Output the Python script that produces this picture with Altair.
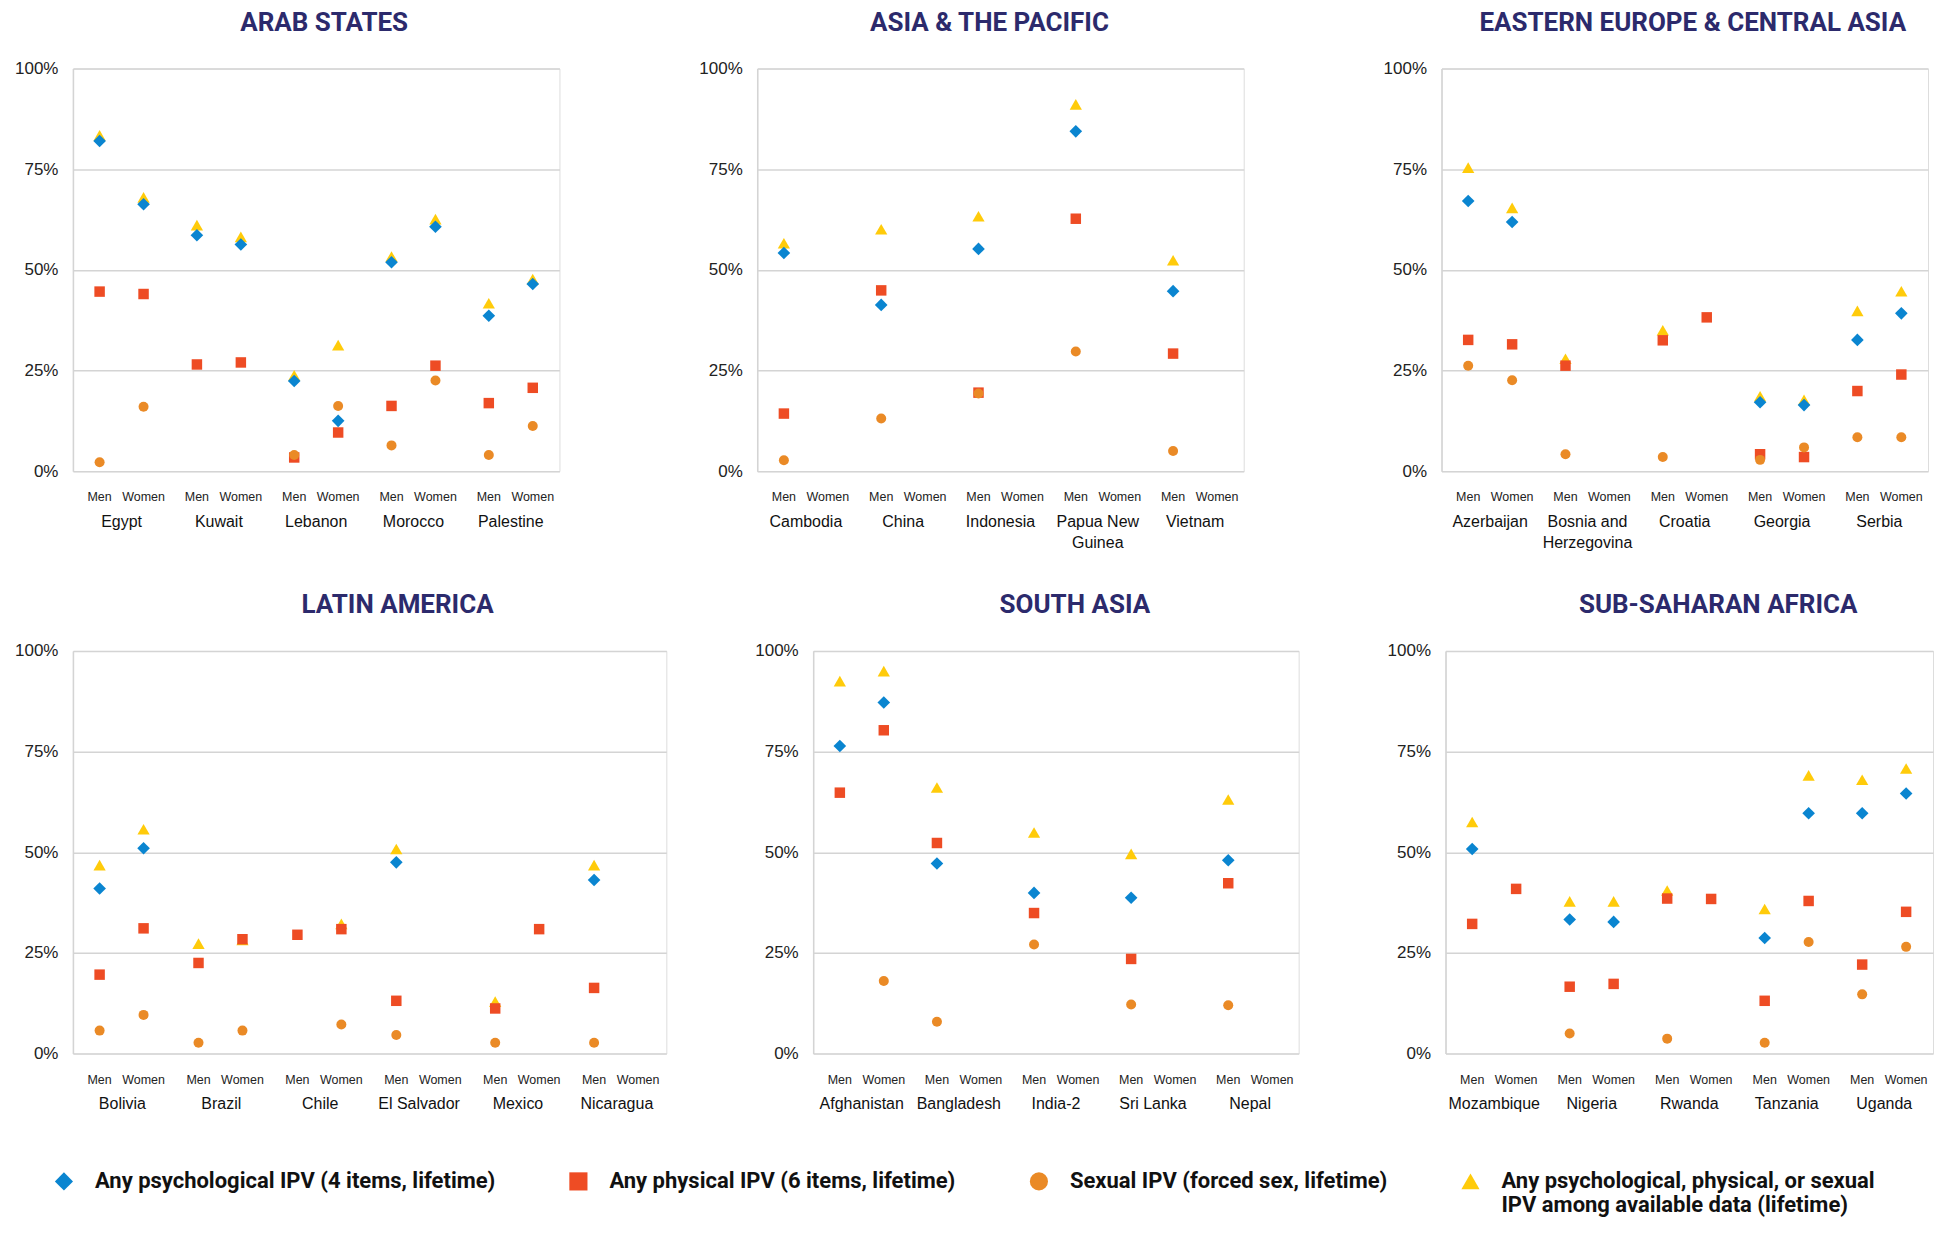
import altair as alt
import pandas as pd

BODY = "Liberation Sans, Arial, sans-serif"
HEAD = "Roboto, sans-serif"
NAVY = "#2C2A6C"
GRID = "#D4D4D4"

SERIES = [
    "Any psychological IPV (4 items, lifetime)",
    "Any physical IPV (6 items, lifetime)",
    "Sexual IPV (forced sex, lifetime)",
    "Any psychological, physical, or sexual|IPV among available data (lifetime)",
]
COLORS = ["#0A85D0", "#EE4C24", "#EA8A26", "#FFCB0A"]
SHAPES = ["diamond", "square", "circle", "triangle-up"]
SIZES = [160, 110, 100, 150]
GENDERS = ["Men", "Women"]

# ---------------- data (percent) ----------------
arab_countries = ["Egypt", "Kuwait", "Lebanon", "Morocco", "Palestine"]
arab_psych_men = [82.0, 58.6, 22.4, 51.9, 38.6]
arab_psych_women = [66.3, 56.3, 12.5, 60.7, 46.5]
arab_phys_men = [44.6, 26.5, 3.4, 16.2, 16.9]
arab_phys_women = [44.0, 27.0, 9.6, 26.2, 20.7]
arab_sex_men = [2.2, None, 4.0, 6.4, 4.0]
arab_sex_women = [16.0, None, 16.2, 22.5, 11.2]
arab_any_men = [83.4, 61.1, 23.8, 53.3, 41.7]
arab_any_women = [68.0, 58.2, 31.3, 62.6, 47.7]

asia_countries = ["Cambodia", "China", "Indonesia", "Papua New\nGuinea", "Vietnam"]
asia_psych_men = [54.2, 41.3, 55.2, 84.4, 44.7]
asia_psych_women = [None, None, None, None, None]
asia_phys_men = [14.3, 44.9, 19.5, 62.7, 29.2]
asia_phys_women = [None, None, None, None, None]
asia_sex_men = [2.7, 13.1, 19.3, 29.7, 5.0]
asia_sex_women = [None, None, None, None, None]
asia_any_men = [56.6, 60.1, 63.3, 91.1, 52.4]
asia_any_women = [None, None, None, None, None]

eeca_countries = ["Azerbaijan", "Bosnia and\nHerzegovina", "Croatia", "Georgia", "Serbia"]
eeca_psych_men = [67.1, None, None, 17.1, 32.6]
eeca_psych_women = [61.9, None, None, 16.4, 39.2]
eeca_phys_men = [32.6, 26.2, 32.5, 4.2, 19.9]
eeca_phys_women = [31.5, None, 38.2, 3.5, 24.0]
eeca_sex_men = [26.2, 4.2, 3.5, 2.8, 8.4]
eeca_sex_women = [22.6, None, None, 5.9, 8.4]
eeca_any_men = [75.4, 27.9, 35.0, 18.6, 39.8]
eeca_any_women = [65.4, None, None, 17.7, 44.7]

latam_countries = ["Bolivia", "Brazil", "Chile", "El Salvador", "Mexico", "Nicaragua"]
latam_psych_men = [41.0, None, None, 47.5, None, 43.1]
latam_psych_women = [51.0, None, None, None, None, None]
latam_phys_men = [19.6, 22.5, 29.5, 13.1, 11.2, 16.3]
latam_phys_women = [31.1, 28.4, 30.9, None, 30.9, None]
latam_sex_men = [5.7, 2.7, None, 4.6, 2.7, 2.7]
latam_sex_women = [9.6, 5.7, 7.2, None, None, None]
latam_any_men = [46.8, 27.3, None, 50.8, 12.9, 46.8]
latam_any_women = [55.7, 28.2, 32.2, None, None, None]

sasia_countries = ["Afghanistan", "Bangladesh", "India-2", "Sri Lanka", "Nepal"]
sasia_psych_men = [76.4, 47.2, 39.9, 38.7, 48.0]
sasia_psych_women = [87.2, None, None, None, None]
sasia_phys_men = [64.8, 52.3, 34.9, 23.5, 42.3]
sasia_phys_women = [80.3, None, None, None, None]
sasia_sex_men = [None, 7.9, 27.1, 12.2, 12.0]
sasia_sex_women = [18.0, None, None, None, None]
sasia_any_men = [92.5, 66.1, 54.9, 49.6, 63.1]
sasia_any_women = [95.0, None, None, None, None]

ssa_countries = ["Mozambique", "Nigeria", "Rwanda", "Tanzania", "Uganda"]
ssa_psych_men = [50.8, 33.3, None, 28.7, 59.7]
ssa_psych_women = [None, 32.7, None, 59.7, 64.6]
ssa_phys_men = [32.2, 16.6, 38.5, 13.1, 22.1]
ssa_phys_women = [40.9, 17.3, 38.4, 37.9, 35.2]
ssa_sex_men = [None, 5.0, 3.7, 2.7, 14.7]
ssa_sex_women = [None, None, None, 27.7, 26.5]
ssa_any_men = [57.5, 37.8, 40.5, 35.9, 68.0]
ssa_any_women = [None, 37.8, None, 69.1, 70.8]

H = 403


def build_df(countries, psych, phys, sex, anyv):
    rows = []
    for sidx, pair in [(3, anyv), (0, psych), (1, phys), (2, sex)]:
        for g, vals in zip(GENDERS, pair):
            for c, v in zip(countries, vals):
                if v is not None:
                    rows.append({"country": c, "gender": g, "series": SERIES[sidx], "value": v})
    return pd.DataFrame(rows)


def panel(title, countries, df, width, dx, yext, legend=False):
    xenc = alt.X("country:N", scale=alt.Scale(domain=countries, paddingInner=0, paddingOuter=0), axis=None)
    xoff = alt.XOffset("gender:N", scale=alt.Scale(domain=GENDERS, padding=0.607))
    leg = None
    if legend:
        leg = alt.Legend(
            title=None, orient="none", legendX=-20, legendY=1103, direction="horizontal",
            labelFont=HEAD, labelFontSize=22, labelFontWeight="bold", labelColor="#111111",
            labelLimit=800, symbolSize=330, symbolStrokeWidth=0, symbolOpacity=1,
            columnPadding=72, labelOffset=20,
            labelExpr="split(datum.label + (indexof(datum.label, '|') < 0 ? '| ' : ''), '|')",
            labelBaseline="middle", padding=0,
        )
    yenc = alt.Y(
        "value:Q",
        scale=alt.Scale(domain=[0, 100], nice=False),
        axis=alt.Axis(
            values=[0, 25, 50, 75, 100], labelExpr="datum.value + '%'", title=None,
            grid=True, gridColor=GRID, gridWidth=1.5, domain=True, domainColor=GRID,
            domainWidth=1.5, ticks=False, labelFont=BODY, labelFontSize=17,
            labelColor="#222222", labelPadding=15, minExtent=yext, maxExtent=yext,
        ),
    )
    layers = []
    # draw order: "any" first (bottom), then psych, phys, sex on top
    for sidx in [3, 0, 1, 2]:
        sub = df[df["series"] == SERIES[sidx]]
        layers.append(
            alt.Chart(sub).mark_point(filled=True, opacity=1, strokeWidth=0, size=SIZES[sidx]).encode(
                x=xenc,
                xOffset=xoff,
                y=yenc,
                color=alt.Color("series:N", scale=alt.Scale(domain=SERIES, range=COLORS), legend=leg),
                shape=alt.Shape("series:N", scale=alt.Scale(domain=SERIES, range=SHAPES), legend=leg),
            )
        )
    lab = pd.DataFrame([{"country": c, "gender": g} for c in countries for g in GENDERS])
    glab = alt.Chart(lab).mark_text(font=BODY, fontSize=12.5, color="#222222", baseline="middle").encode(
        x=xenc, xOffset=xoff, y=alt.value(H + 26), text="gender:N"
    )
    clab = alt.Chart(pd.DataFrame({"country": countries})).mark_text(
        font=BODY, fontSize=16, color="#111111", baseline="top", lineBreak="\n", lineHeight=21
    ).encode(x=xenc, y=alt.value(H + 43), text="country:N")
    return alt.layer(*layers, glab, clab).properties(
        width=width, height=H,
        title=alt.TitleParams(title, font=HEAD, fontSize=26, fontWeight="bold", color=NAVY,
                              anchor="middle", frame="group", dx=dx, offset=24),
    )


p1 = panel("ARAB STATES", arab_countries,
           build_df(arab_countries, (arab_psych_men, arab_psych_women), (arab_phys_men, arab_phys_women),
                    (arab_sex_men, arab_sex_women), (arab_any_men, arab_any_women)), 487, 8, 61, legend=True)
p2 = panel("ASIA & THE PACIFIC", asia_countries,
           build_df(asia_countries, (asia_psych_men, asia_psych_women), (asia_phys_men, asia_phys_women),
                    (asia_sex_men, asia_sex_women), (asia_any_men, asia_any_women)), 487, -11, 61)
p3 = panel("EASTERN EUROPE & CENTRAL ASIA", eeca_countries,
           build_df(eeca_countries, (eeca_psych_men, eeca_psych_women), (eeca_phys_men, eeca_phys_women),
                    (eeca_sex_men, eeca_sex_women), (eeca_any_men, eeca_any_women)), 487, 8, 61)
p4 = panel("LATIN AMERICA", latam_countries,
           build_df(latam_countries, (latam_psych_men, latam_psych_women), (latam_phys_men, latam_phys_women),
                    (latam_sex_men, latam_sex_women), (latam_any_men, latam_any_women)), 594, 28, 64)
p5 = panel("SOUTH ASIA", sasia_countries,
           build_df(sasia_countries, (sasia_psych_men, sasia_psych_women), (sasia_phys_men, sasia_phys_women),
                    (sasia_sex_men, sasia_sex_women), (sasia_any_men, sasia_any_women)), 486, 19, 61)
p6 = panel("SUB-SAHARAN AFRICA", ssa_countries,
           build_df(ssa_countries, (ssa_psych_men, ssa_psych_women), (ssa_phys_men, ssa_phys_women),
                    (ssa_sex_men, ssa_sex_women), (ssa_any_men, ssa_any_women)), 488, 29, 61)

row1 = alt.hconcat(p1, p2, p3, spacing=135)
row2 = alt.hconcat(p4, p5, p6, spacing=84)
chart = alt.vconcat(row1, row2, spacing=39).properties(padding=0).configure_view(stroke=None).configure(
    background="white"
)

chart.save("out.html", embed_options={"renderer": "svg", "actions": False})
